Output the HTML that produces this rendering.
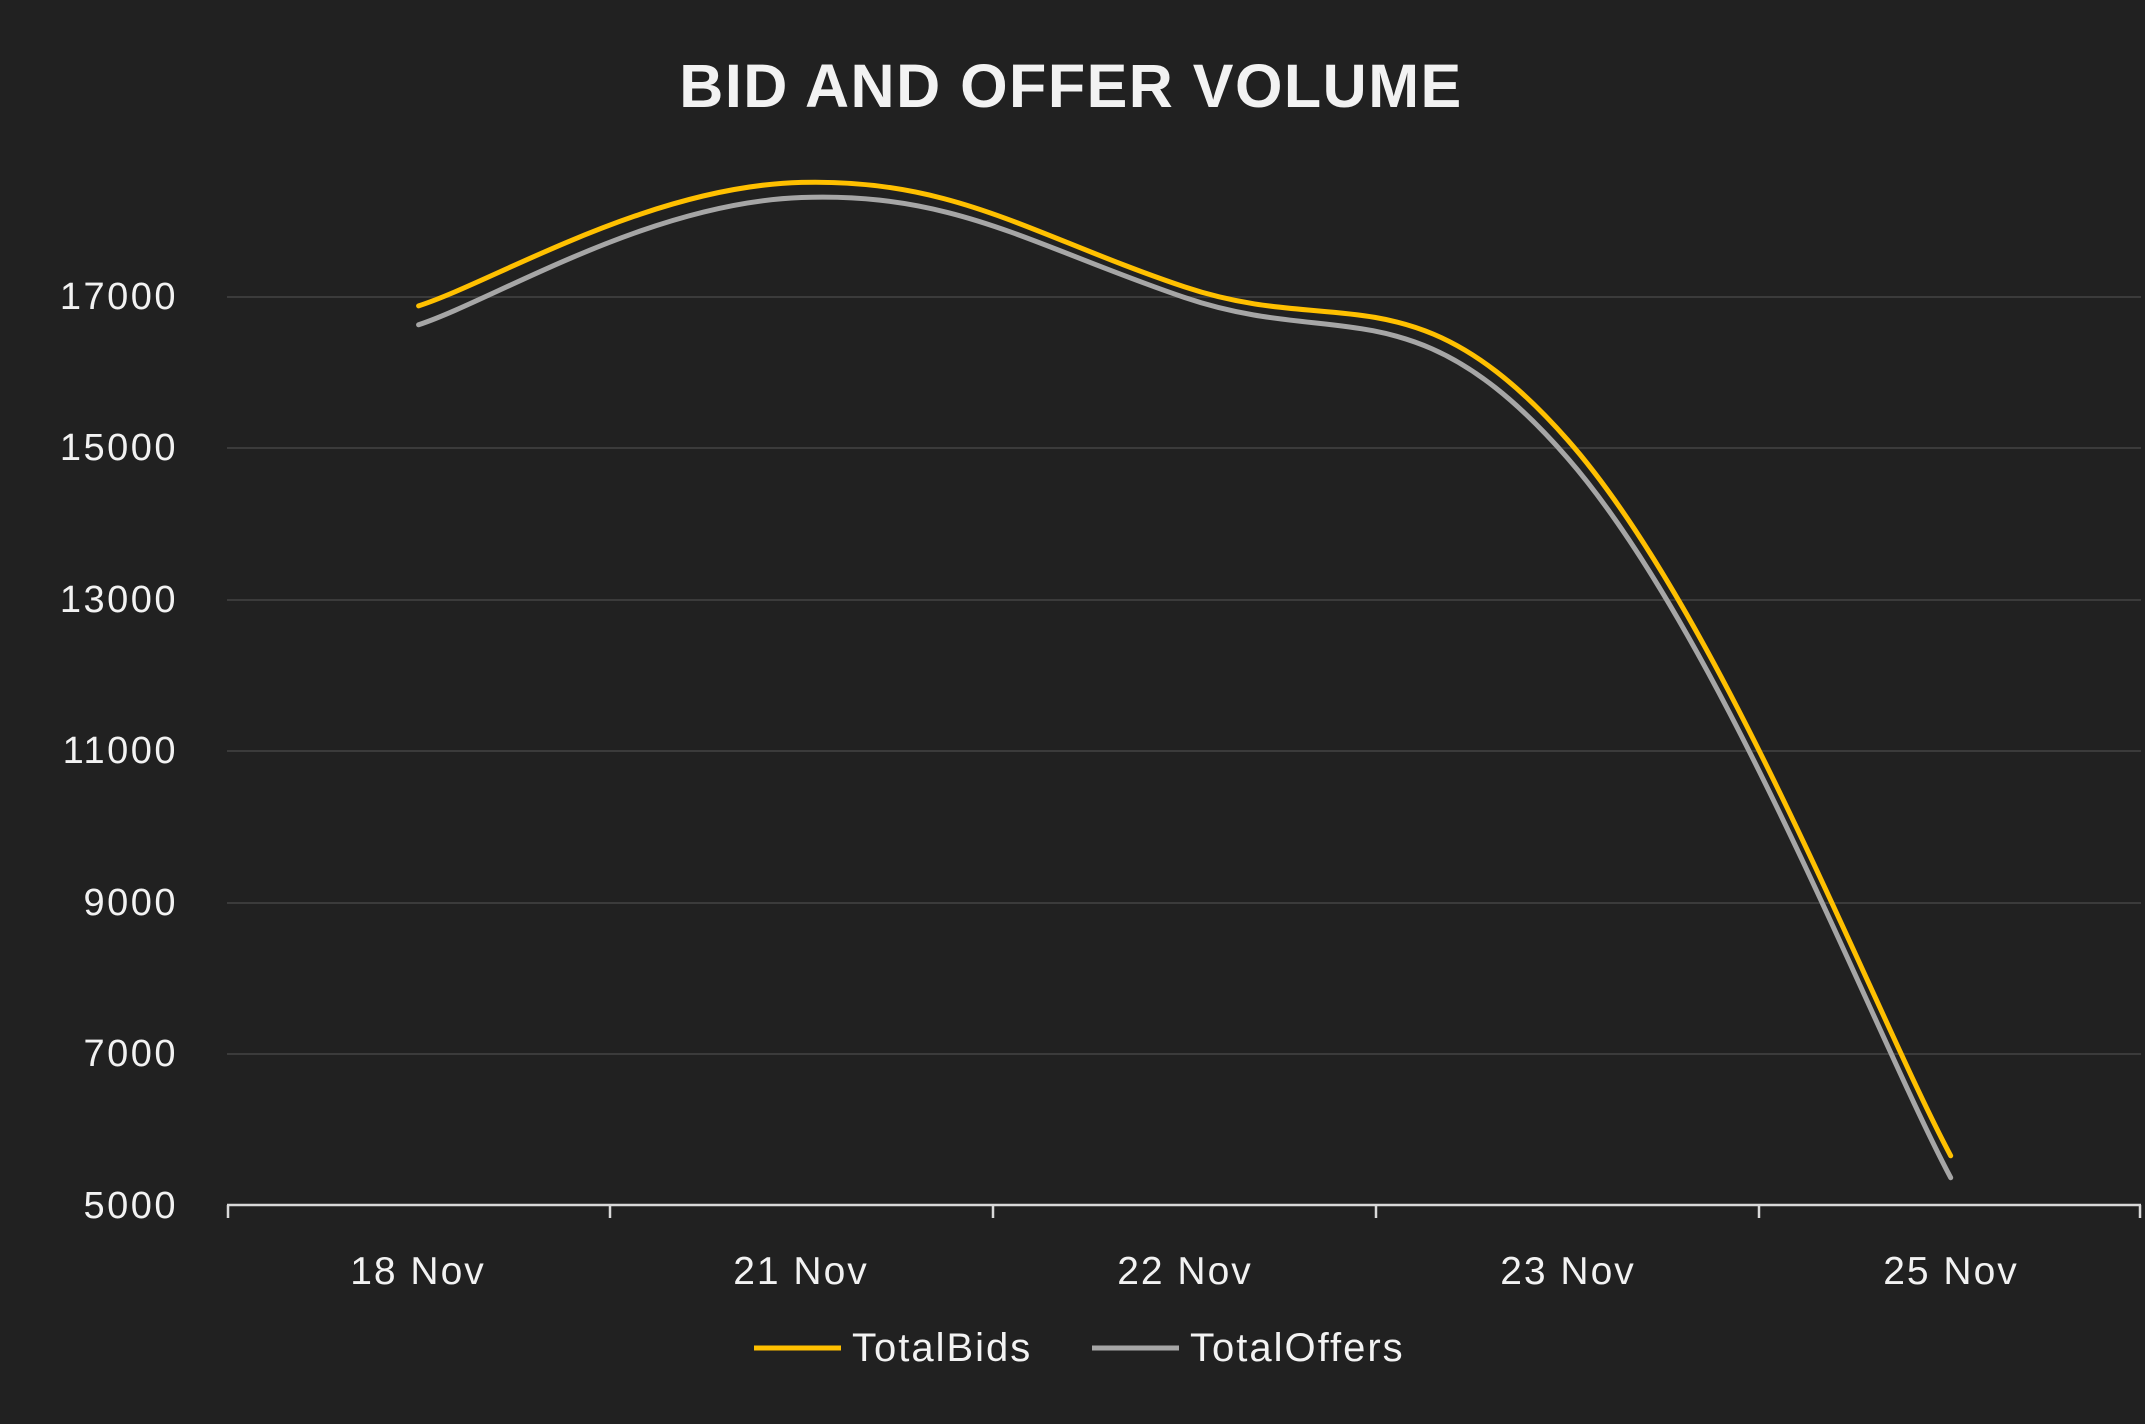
<!DOCTYPE html>
<html><head><meta charset="utf-8"><style>
html,body{margin:0;padding:0;background:#212121;}
svg{display:block;}
text{font-family:"Liberation Sans",sans-serif;fill:#f2f2f2;}
</style></head><body>
<svg id="c" width="2145" height="1424" viewBox="0 0 2145 1424" xmlns="http://www.w3.org/2000/svg">
<rect width="2145" height="1424" fill="#212121"/>
<text x="1071" y="107" font-size="61" font-weight="bold" text-anchor="middle" letter-spacing="1.5" fill="#ffffff">BID AND OFFER VOLUME</text>
<g stroke="#3b3b3b" stroke-width="2">
<line x1="227" y1="297" x2="2141" y2="297"/>
<line x1="227" y1="448" x2="2141" y2="448"/>
<line x1="227" y1="600" x2="2141" y2="600"/>
<line x1="227" y1="751" x2="2141" y2="751"/>
<line x1="227" y1="903" x2="2141" y2="903"/>
<line x1="227" y1="1054" x2="2141" y2="1054"/>
</g>
<g font-size="38" text-anchor="end" letter-spacing="2.5">
<text x="178" y="309">17000</text>
<text x="178" y="460">15000</text>
<text x="178" y="612">13000</text>
<text x="178" y="763">11000</text>
<text x="178" y="915">9000</text>
<text x="178" y="1066">7000</text>
<text x="178" y="1218">5000</text>
</g>
<g stroke="#d9d9d9" stroke-width="2.5">
<line x1="227" y1="1205" x2="2141" y2="1205"/>
<line x1="228" y1="1205" x2="228" y2="1218"/>
<line x1="610" y1="1205" x2="610" y2="1218"/>
<line x1="993" y1="1205" x2="993" y2="1218"/>
<line x1="1376" y1="1205" x2="1376" y2="1218"/>
<line x1="1759" y1="1205" x2="1759" y2="1218"/>
<line x1="2140" y1="1205" x2="2140" y2="1218"/>
</g>
<g font-size="39" text-anchor="middle" letter-spacing="2">
<text x="418" y="1284">18 Nov</text>
<text x="801" y="1284">21 Nov</text>
<text x="1185" y="1284">22 Nov</text>
<text x="1568" y="1284">23 Nov</text>
<text x="1951" y="1284">25 Nov</text>
</g>
<path id="offers" fill="none" stroke="#a6a6a6" stroke-width="5" stroke-linecap="round"/>
<path id="bids" fill="none" stroke="#ffc000" stroke-width="5" stroke-linecap="round"/>
<line x1="754" y1="1348" x2="841" y2="1348" stroke="#ffc000" stroke-width="5"/>
<text x="852" y="1361" font-size="40" letter-spacing="2">TotalBids</text>
<line x1="1092" y1="1348" x2="1179" y2="1348" stroke="#a6a6a6" stroke-width="5"/>
<text x="1190" y="1361" font-size="40" letter-spacing="2">TotalOffers</text>
</svg>
<script>
function y(v){return 1205-(v-5000)/2000*151.5;}
var xs=[418.6,801.6,1184.6,1567.6,1950.7];
function path(vals){
 var p=xs.map(function(x,i){return [x,y(vals[i])];});
 var d="M"+p[0][0]+","+p[0][1];
 var t=0.4;
 for(var i=0;i<p.length-1;i++){
  var p0=p[i-1]||p[i],p1=p[i],p2=p[i+1],p3=p[i+2]||p[i+1];
  var c1=[p1[0]+(p2[0]-p0[0])*t/2,p1[1]+(p2[1]-p0[1])*t/2];
  var c2=[p2[0]-(p3[0]-p1[0])*t/2,p2[1]-(p3[1]-p1[1])*t/2];
  d+=" C"+c1+" "+c2+" "+p2;
 }
 return d;
}
document.getElementById("bids").setAttribute("d",path([16870,18500,17120,15100,5650]));
document.getElementById("offers").setAttribute("d",path([16620,18300,16980,14860,5360]));
</script>
</body></html>
